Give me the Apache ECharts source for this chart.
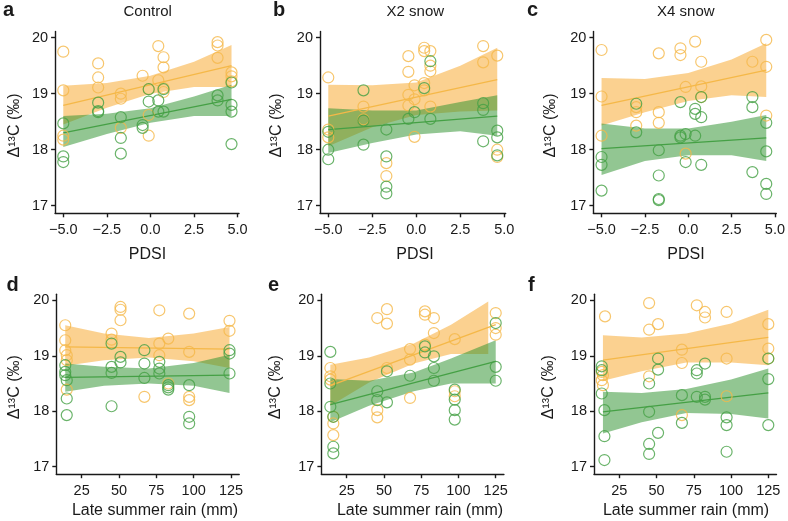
<!DOCTYPE html>
<html>
<head>
<meta charset="utf-8">
<script src="https://cdn.jsdelivr.net/npm/echarts@6/dist/echarts.min.js"></script>
<style>html,body{margin:0;padding:0;background:#fff}#c{width:788px;height:521px}</style>
</head>
<body>
<div id="c"></div>
<script>
// ---------- DATA ----------
const pdsiTicks = [-5, -2.5, 0, 2.5, 5];
const rainTicks = [25, 50, 75, 100, 125];
const yTicks = [17, 18, 19, 20];
const panelLetters = ['a', 'b', 'c', 'd', 'e', 'f'];
const panelTitles = ['Control', 'X2 snow', 'X4 snow'];
const xTitleTop = 'PDSI';
const xTitleBottom = 'Late summer rain (mm)';
const yTitle = 'Δ¹³C (‰)';

// Panel a (Control, PDSI)
const aOrange = [[-5,19.75],[-5,19.06],[-5,18.25],[-5,18.18],[-3,19.54],[-3,19.29],[-3,19.11],[-1.7,19.0],[-1.7,18.91],[-1.7,18.39],[-0.45,19.32],[-0.1,19.08],[-0.1,18.62],[-0.1,18.25],[0.45,19.85],[0.45,19.24],[0.75,19.65],[0.75,19.47],[0.75,19.1],[0.75,19.03],[3.85,19.92],[3.85,19.86],[3.85,19.64],[4.65,19.38],[4.65,19.31],[4.65,19.22]];
const aGreen = [[-5,18.47],[-5,17.88],[-5,17.78],[-3,18.84],[-3,18.69],[-3,18.67],[-1.7,18.58],[-1.7,18.21],[-1.7,17.93],[-0.45,18.44],[-0.45,18.39],[-0.1,19.08],[-0.1,18.86],[0.45,18.88],[0.45,18.68],[0.75,19.08],[0.75,18.68],[3.85,18.97],[3.85,18.88],[4.65,19.2],[4.65,18.8],[4.65,18.68],[4.65,18.1]];
const aOrangeFit = [[-5,18.79],[4.65,19.5]];
const aGreenFit = [[-5,18.3],[4.65,18.9]];
const aOrangeBand = [[-5,18.45,19.14],[-2.5,18.75,19.19],[0,19.0,19.32],[2.5,19.12,19.57],[4.65,19.12,19.87]];
const aGreenBand = [[-5,18.05,18.6],[-2.5,18.28,18.64],[0,18.48,18.74],[2.5,18.6,18.95],[4.65,18.6,19.16]];

// Panel b (X2 snow, PDSI)
const bOrange = [[-5,19.29],[-5,18.36],[-5,18.22],[-3,18.77],[-3,18.54],[-1.7,17.76],[-1.7,17.53],[-0.45,19.67],[-0.45,19.39],[-0.45,18.98],[-0.45,18.79],[-0.1,19.15],[-0.1,18.9],[-0.1,18.23],[0.45,19.82],[0.45,19.76],[0.45,19.19],[0.45,19.06],[0.8,19.76],[0.8,19.5],[0.8,19.4],[0.8,18.77],[3.8,19.85],[3.8,19.56],[4.6,19.68],[4.6,18.0],[4.6,17.87]];
const bGreen = [[-5,18.32],[-5,18.0],[-5,17.83],[-3,19.06],[-3,18.52],[-3,18.09],[-1.7,18.36],[-1.7,17.88],[-1.7,17.34],[-1.7,17.22],[-0.45,18.55],[-0.1,18.67],[0.45,19.1],[0.8,19.58],[0.8,18.55],[3.8,18.83],[3.8,18.71],[3.8,18.15],[4.6,18.34],[4.6,18.22],[4.6,17.9]];
const bOrangeFit = [[-5,18.6],[4.6,19.25]];
const bGreenFit = [[-5,18.36],[4.6,18.6]];
const bOrangeBand = [[-5,18.06,19.16],[-2.5,18.4,19.15],[0,18.62,19.2],[2.5,18.68,19.5],[4.6,18.7,19.82]];
const bGreenBand = [[-5,17.94,18.74],[-2.5,18.12,18.7],[0,18.27,18.7],[2.5,18.33,18.85],[4.6,18.25,18.97]];

// Panel c (X4 snow, PDSI)
const cOrange = [[-5,19.78],[-5,18.95],[-5,18.25],[-3,18.76],[-3,18.67],[-3,18.43],[-1.7,19.72],[-1.7,18.67],[-1.7,18.48],[-0.45,19.81],[-0.45,19.69],[-0.15,19.12],[-0.15,17.93],[0.4,19.93],[0.75,19.57],[0.75,19.13],[0.75,18.94],[3.7,19.57],[4.5,19.96],[4.5,19.48],[4.5,18.61]];
const cGreen = [[-5,17.87],[-5,17.73],[-5,17.27],[-3,18.82],[-3,18.31],[-1.7,17.99],[-1.7,17.54],[-1.7,17.1],[-1.7,17.12],[-0.45,18.85],[-0.45,18.25],[-0.45,18.22],[-0.15,18.28],[-0.15,17.78],[0.4,18.73],[0.4,18.64],[0.4,18.25],[0.75,18.58],[0.75,18.94],[0.75,17.73],[3.7,18.94],[3.7,18.76],[3.7,17.6],[4.5,18.48],[4.5,17.97],[4.5,17.39],[4.5,17.21]];
const cOrangeFit = [[-5,18.79],[4.5,19.42]];
const cGreenFit = [[-5,18.02],[4.5,18.21]];
const cOrangeBand = [[-5,18.43,19.28],[-2.5,18.67,19.26],[0,18.87,19.37],[2.5,18.97,19.61],[4.5,18.94,19.9]];
const cGreenBand = [[-5,17.55,18.47],[-2.5,17.8,18.38],[0,17.9,18.38],[2.5,17.9,18.5],[4.5,17.8,18.62]];

// Panel d (Control, rain)
const dOrange = [[14,19.55],[14,19.28],[14,19.1],[15,19.01],[15,18.92],[15,18.39],[45,19.4],[45,19.29],[51,19.88],[51,19.83],[51,19.64],[67,18.26],[77,19.82],[77,19.22],[77,19.01],[83,19.31],[83,18.5],[97,19.76],[97,19.07],[97,18.26],[97,18.2],[124,19.63],[124,19.45]];
const dGreen = [[14,18.83],[14,18.71],[14,18.65],[15,18.56],[15,18.23],[15,17.93],[45,19.22],[45,18.8],[45,18.69],[45,18.09],[51,18.98],[51,18.88],[67,19.1],[67,18.86],[67,18.6],[77,18.89],[77,18.77],[77,18.68],[83,18.47],[83,18.43],[83,18.39],[97,18.47],[97,17.9],[97,17.78],[124,19.1],[124,19.04],[124,18.68]];
const dOrangeFit = [[14,19.16],[124,19.12]];
const dGreenFit = [[14,18.61],[124,18.65]];
const dOrangeBand = [[14,18.82,19.55],[40,18.92,19.4],[70,18.97,19.32],[100,18.9,19.4],[124,18.78,19.52]];
const dGreenBand = [[14,18.35,18.86],[40,18.46,18.8],[70,18.5,18.77],[100,18.46,18.87],[124,18.33,19.02]];

// Panel e (X2 snow, rain)
const eOrange = [[14,18.78],[14,18.63],[14,18.57],[16,17.9],[16,17.78],[16,17.57],[45.5,19.68],[45.5,18.02],[45.5,17.89],[52,19.84],[52,19.58],[52,18.78],[67.5,19.12],[67.5,18.93],[67.5,18.24],[77.5,19.8],[77.5,19.74],[77.5,19.2],[83.5,19.68],[83.5,19.41],[97.5,19.3],[97.5,18.36],[97.5,18.27],[125,19.77],[125,19.5],[125,19.38]];
const eGreen = [[14,19.07],[14,18.5],[14,18.08],[16,17.9],[16,17.36],[16,17.24],[45.5,18.36],[45.5,18.2],[52,18.72],[52,18.16],[67.5,18.64],[77.5,19.17],[77.5,19.06],[83.5,18.99],[83.5,18.78],[83.5,18.55],[97.5,18.39],[97.5,18.21],[97.5,18.02],[97.5,17.85],[125,19.59],[125,18.8],[125,18.55]];
const eOrangeFit = [[14,18.46],[125,19.56]];
const eGreenFit = [[14,18.12],[125,18.9]];
const eOrangeBand = [[14,18.1,18.84],[40,18.52,18.97],[70,18.86,19.22],[95,19.03,19.56],[120,19.03,19.98]];
const eGreenBand = [[14,17.8,18.58],[40,18.1,18.55],[70,18.36,18.7],[95,18.5,18.95],[125,18.5,19.28]];

// Panel f (X4 snow, rain)
const fOrange = [[15.4,19.71],[13.2,18.71],[14,18.65],[13.2,18.56],[14,18.47],[45,19.95],[45,19.47],[45,18.63],[51,19.57],[67,19.11],[67,18.87],[67,17.93],[77,19.91],[82.5,19.79],[82.5,19.69],[97,19.79],[97,18.95],[97,18.27],[125,19.57],[125,19.13],[125,18.95]];
const fGreen = [[13.2,18.81],[13.2,18.74],[13.2,18.32],[15,18.02],[15,17.55],[15,17.12],[45,18.5],[45,17.99],[45,17.41],[45,17.23],[51,18.95],[51,18.75],[51,17.61],[67,18.29],[67,17.79],[77,18.74],[77,18.68],[77,18.26],[82.5,18.86],[82.5,18.26],[82.5,18.21],[97,17.89],[97,17.75],[97,17.27],[125,18.95],[125,18.58],[125,17.75]];
const fOrangeFit = [[14,18.92],[125,19.33]];
const fGreenFit = [[14,17.99],[125,18.33]];
const fOrangeBand = [[14,18.55,19.37],[40,18.72,19.33],[70,18.88,19.4],[100,18.88,19.58],[125,18.83,19.83]];
const fGreenBand = [[14,17.6,18.35],[40,17.8,18.33],[70,17.97,18.4],[100,17.95,18.57],[125,17.87,18.77]];

// ---------- LAYOUT / STYLE ----------
const FONT = '"Liberation Sans", Arial, Helvetica, sans-serif';
const ORANGE = '#f5b848';
const GREEN = '#45a045';
const ORANGE_FILL = 'rgba(248,172,52,0.55)';
const GREEN_FILL = 'rgba(46,146,46,0.52)';
const TEXT = '#1a1a1a';

const panels = [
  {orange:aOrange, green:aGreen, oFit:aOrangeFit, gFit:aGreenFit, oBand:aOrangeBand, gBand:aGreenBand, top:true,  grid:{left:55.1, width:183.9, top:31.5, height:181.8}, xt:147.5, yl:15},
  {orange:bOrange, green:bGreen, oFit:bOrangeFit, gFit:bGreenFit, oBand:bOrangeBand, gBand:bGreenBand, top:true,  grid:{left:320.0, width:185.7, top:31.5, height:181.8}, xt:415, yl:277},
  {orange:cOrange, green:cGreen, oFit:cOrangeFit, gFit:cGreenFit, oBand:cOrangeBand, gBand:cGreenBand, top:true,  grid:{left:593.4, width:186.3, top:31.5, height:181.8}, xt:686, yl:551},
  {orange:dOrange, green:dGreen, oFit:dOrangeFit, gFit:dGreenFit, oBand:dOrangeBand, gBand:dGreenBand, top:false, grid:{left:56.3, width:182.9, top:294.2, height:180}, xt:155, yl:15},
  {orange:eOrange, green:eGreen, oFit:eOrangeFit, gFit:eGreenFit, oBand:eOrangeBand, gBand:eGreenBand, top:false, grid:{left:321.4, width:182.5, top:294.2, height:180}, xt:420, yl:276},
  {orange:fOrange, green:fGreen, oFit:fOrangeFit, gFit:fGreenFit, oBand:fOrangeBand, gBand:fGreenBand, top:false, grid:{left:594.0, width:182.5, top:294.2, height:180}, xt:686, yl:549}
];

const grids = [], xAxes = [], yAxes = [], series = [];
const axisLineStyle = {color: TEXT, width: 1.4};

function bandSeries(i, band, fill) {
  return {
    type: 'custom', xAxisIndex: i, yAxisIndex: i, silent: true, z: 1,
    data: band,
    renderItem: function (params, api) {
      if (params.dataIndex !== 0) return {type: 'group', children: []};
      const pts = [];
      for (let k = 0; k < band.length; k++) pts.push(api.coord([band[k][0], band[k][2]]));
      for (let k = band.length - 1; k >= 0; k--) pts.push(api.coord([band[k][0], band[k][1]]));
      return {type: 'polygon', shape: {points: pts, smooth: 0}, style: {fill: fill, stroke: null}};
    }
  };
}

panels.forEach((p, i) => {
  grids.push({left: p.grid.left, top: p.grid.top, width: p.grid.width, height: p.grid.height, containLabel: false});
  const ticks = p.top ? pdsiTicks : rainTicks;
  xAxes.push({
    gridIndex: i, type: 'value',
    min: p.top ? -5.47 : 8, max: p.top ? 5.08 : 130.5,
    axisLine: {show: true, onZero: false, lineStyle: axisLineStyle},
    axisTick: {show: true, length: 4, customValues: ticks, lineStyle: axisLineStyle},
    axisLabel: {customValues: ticks, fontSize: 14.5, fontFamily: FONT, color: TEXT, margin: 9,
      formatter: v => p.top ? ((v < 0 ? '\u2212' : '') + Math.abs(v).toFixed(1)) : String(v)},
    splitLine: {show: false}
  });
  yAxes.push({
    gridIndex: i, type: 'value', min: 16.865, max: 20.11,
    axisLine: {show: true, onZero: false, lineStyle: axisLineStyle},
    axisTick: {show: true, length: 4, customValues: yTicks, lineStyle: axisLineStyle},
    axisLabel: {customValues: yTicks, fontSize: 14.5, fontFamily: FONT, color: TEXT, margin: 7},
    splitLine: {show: false}
  });
  series.push(bandSeries(i, p.oBand, ORANGE_FILL));
  series.push(bandSeries(i, p.gBand, GREEN_FILL));
  series.push({type: 'line', xAxisIndex: i, yAxisIndex: i, data: p.oFit, showSymbol: false, silent: true, z: 3,
    lineStyle: {color: ORANGE, width: 1.3}});
  series.push({type: 'line', xAxisIndex: i, yAxisIndex: i, data: p.gFit, showSymbol: false, silent: true, z: 3,
    lineStyle: {color: GREEN, width: 1.3}});
  series.push({type: 'scatter', xAxisIndex: i, yAxisIndex: i, data: p.orange, symbol: 'circle', symbolSize: 11, silent: true, z: 4,
    itemStyle: {color: 'rgba(0,0,0,0)', borderColor: ORANGE, borderWidth: 1.2}});
  series.push({type: 'scatter', xAxisIndex: i, yAxisIndex: i, data: p.green, symbol: 'circle', symbolSize: 11, silent: true, z: 4,
    itemStyle: {color: 'rgba(0,0,0,0)', borderColor: GREEN, borderWidth: 1.2}});
});

function txt(x, y, text, size, bold, align, rot) {
  return {type: 'text', x: x, y: y, rotation: rot || 0, silent: true,
    style: {text: text, fill: TEXT, font: (bold ? 'bold ' : '') + size + 'px ' + FONT,
      textAlign: align, textVerticalAlign: 'middle', align: align, verticalAlign: 'middle'}};
}

const graphics = [];
const letterPos = [[3,10],[273,10],[527,10],[6.5,285],[268,285],[528,285]];
panelLetters.forEach((l, i) => graphics.push(txt(letterPos[i][0], letterPos[i][1], l, 20, true, 'left')));
const titleX = [147.7, 415.3, 685.8];
panelTitles.forEach((t, i) => graphics.push(txt(titleX[i], 12, t, 15, false, 'center')));
panels.forEach((p, i) => {
  if (p.top) graphics.push(txt(p.xt, 254.5, xTitleTop, 16, false, 'center'));
  else graphics.push(txt(p.xt, 510.5, xTitleBottom, 16, false, 'center'));
  const cy = p.grid.top + p.grid.height / 2 + 3;
  graphics.push(txt(p.yl, cy, yTitle, 16, false, 'center', Math.PI / 2));
});

const chart = echarts.init(document.getElementById('c'), null, {renderer: 'canvas'});
chart.setOption({
  animation: false,
  backgroundColor: '#ffffff',
  grid: grids, xAxis: xAxes, yAxis: yAxes, series: series,
  graphic: {elements: graphics}
});
</script>
</body>
</html>
